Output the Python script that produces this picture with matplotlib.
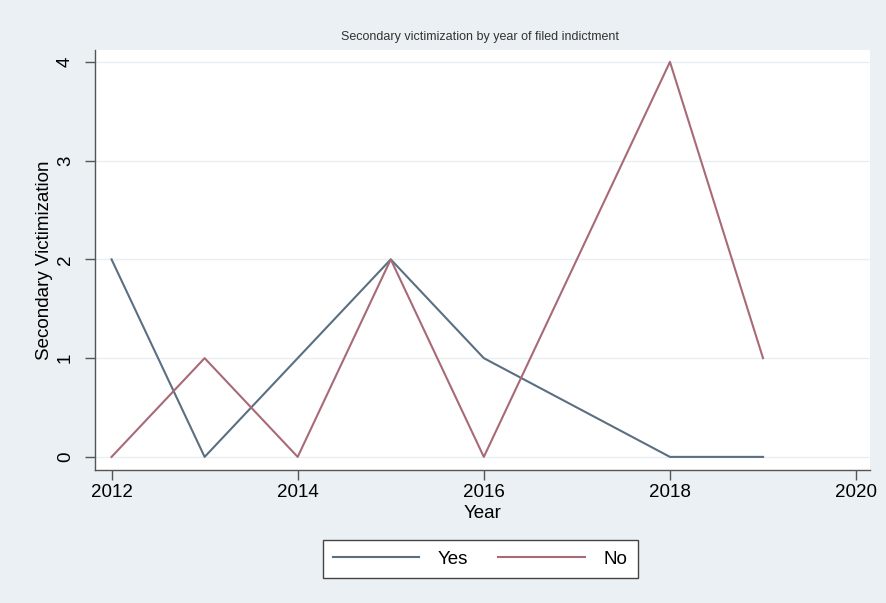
import matplotlib.pyplot as plt

plt.rcParams['font.family'] = ['Liberation Sans', 'DejaVu Sans']

years_yes = [2012, 2013, 2014, 2015, 2016, 2018, 2019]
yes_vals = [2, 0, 1, 2, 1, 0, 0]
years_no = [2012, 2013, 2014, 2015, 2016, 2018, 2019]
no_vals = [0, 1, 0, 2, 0, 4, 1]
x_ticks = [2012, 2014, 2016, 2018, 2020]
y_ticks = [0, 1, 2, 3, 4]

bg = '#eaf0f3'

fig = plt.figure(figsize=(8.86, 6.03), dpi=100)
fig.patch.set_facecolor(bg)
ax = fig.add_axes([0.107, 0.221, 0.875, 0.696])
ax.set_facecolor('white')

ax.plot(years_yes, yes_vals, color='#5b6f82', lw=1.5, label='Yes')
ax.plot(years_no, no_vals, color='#a86a76', lw=1.5, label='No')

ax.set_xlim(2011.82, 2020.15)
ax.set_ylim(-0.13, 4.12)
ax.set_xticks(x_ticks)
ax.set_yticks(y_ticks)
ax.set_yticklabels([str(v) for v in y_ticks], rotation=90, va='center')
ax.tick_params(labelsize=13.5, color='#555555', length=7, width=1)
ax.tick_params(axis='y', pad=8)
ax.grid(axis='y', color='#e8eef1', lw=1)
ax.set_axisbelow(True)

for s in ['top', 'right']:
    ax.spines[s].set_visible(False)
for s in ['left', 'bottom']:
    ax.spines[s].set_color('#555555')
    ax.spines[s].set_linewidth(1)

ax.set_xlabel('Year', fontsize=13.5, labelpad=3)
ax.set_ylabel('Secondary Victimization', fontsize=13.5, labelpad=3)
fig.text(0.542, 0.938, 'Secondary victimization by year of filed indictment',
         ha='center', va='center', fontsize=9, color='#333333')

leg = fig.legend(loc='center', bbox_to_anchor=(0.542, 0.073), ncol=2,
                 fontsize=13.5, frameon=True, fancybox=False, handlelength=4.6,
                 handletextpad=1.0, columnspacing=1.6, borderpad=0.55)
leg.get_frame().set_edgecolor('#444444')
leg.get_frame().set_facecolor('white')
leg.get_frame().set_alpha(1)
leg.get_frame().set_linewidth(1)

fig.savefig('out.png', dpi=100, facecolor=bg)
